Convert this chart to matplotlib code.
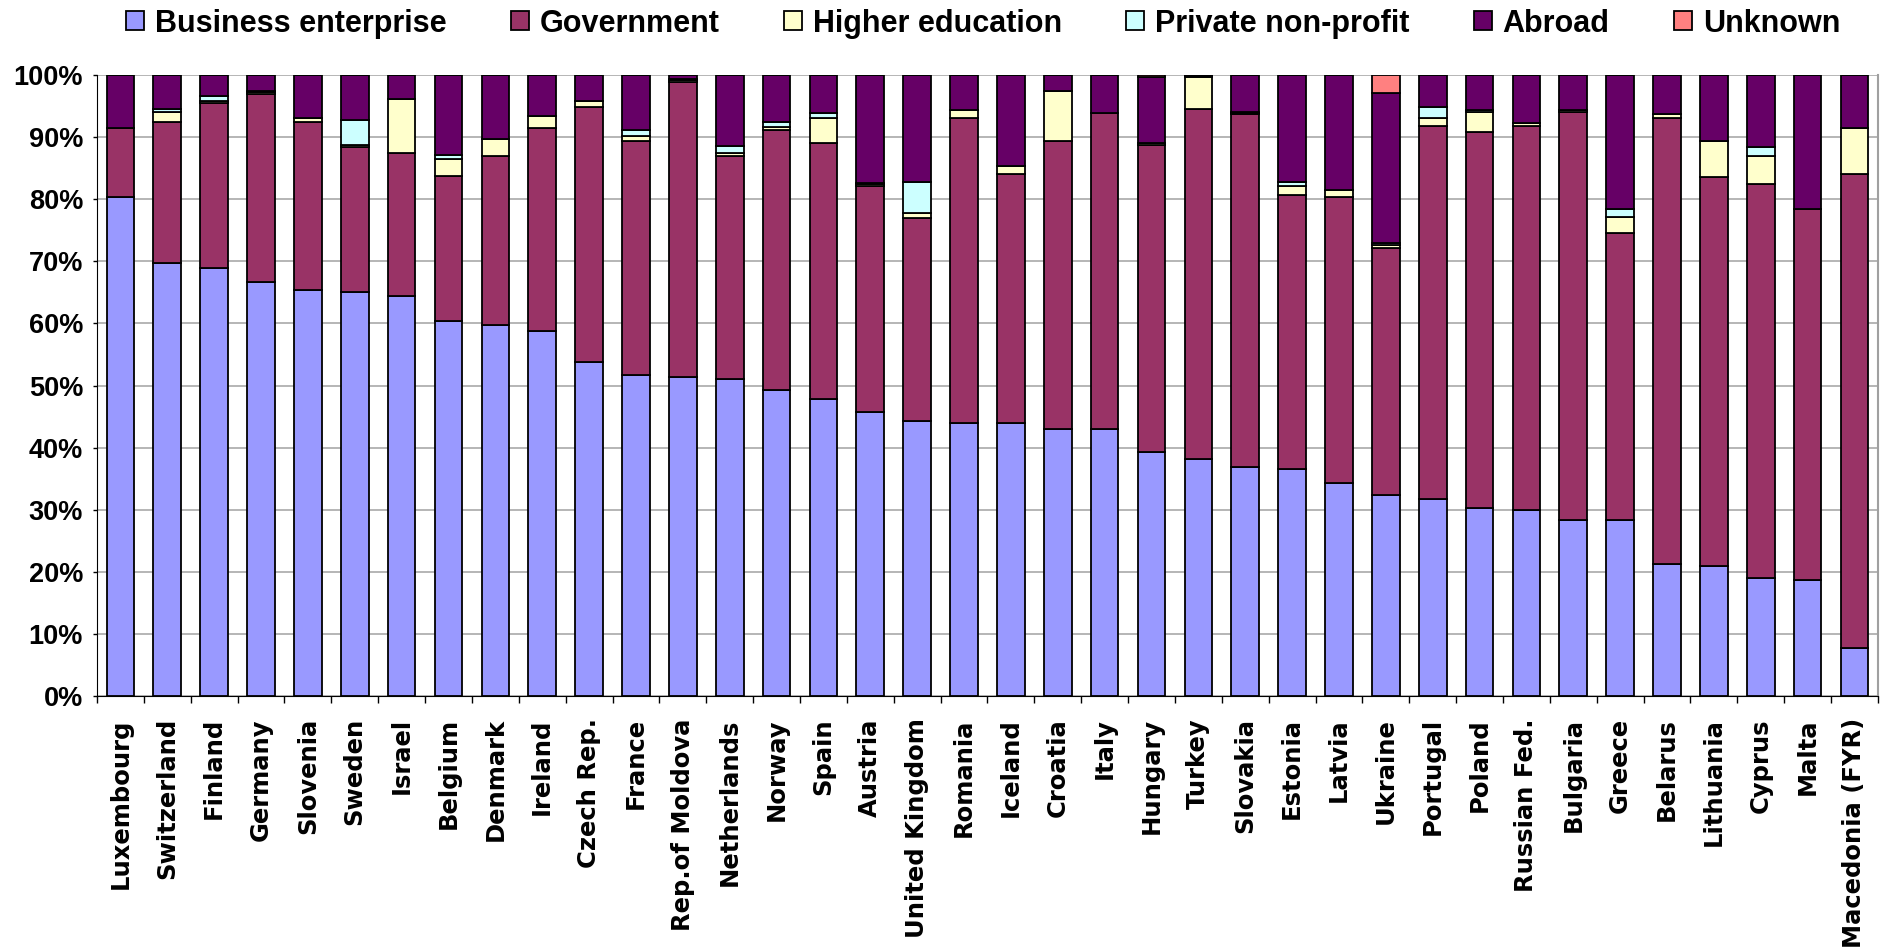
"""
Stacked shares of R&D funding by source, per country.
"""
import numpy as np
import matplotlib
matplotlib.use("Agg")
from matplotlib import pyplot as plt
from matplotlib.ticker import FixedLocator, PercentFormatter

countries = ["Luxembourg", "Switzerland", "Finland", "Germany", "Slovenia", "Sweden",
             "Israel", "Belgium", "Denmark", "Ireland", "Czech Rep.", "France",
             "Rep.of Moldova", "Netherlands", "Norway", "Spain", "Austria",
             "United Kingdom", "Romania", "Iceland", "Croatia", "Italy", "Hungary",
             "Turkey", "Slovakia", "Estonia", "Latvia", "Ukraine", "Portugal",
             "Poland", "Russian Fed.", "Bulgaria", "Greece", "Belarus", "Lithuania",
             "Cyprus", "Malta", "Macedonia (FYR)"]

business = [80.3, 69.7, 69.0, 66.6, 65.4, 65.0, 64.4, 60.4, 59.7, 58.8, 53.8, 51.7,
            51.3, 51.0, 49.2, 47.9, 45.8, 44.3, 44.0, 43.9, 43.0, 43.0, 39.3, 38.1,
            36.8, 36.5, 34.3, 32.4, 31.8, 30.2, 29.9, 28.4, 28.4, 21.2, 20.9, 19.0,
            18.7, 7.8]
government = [11.2, 22.7, 26.5, 30.4, 27.1, 23.4, 23.1, 23.4, 27.2, 32.7, 41.1, 37.7,
              47.6, 36.0, 42.0, 41.2, 36.4, 32.6, 49.1, 40.1, 46.4, 50.8, 49.4, 56.5,
              56.9, 44.1, 46.0, 39.8, 60.0, 60.7, 61.9, 65.7, 46.1, 71.9, 62.6, 63.5,
              59.8, 76.3]
higher_ed = [0.0, 1.6, 0.3, 0.3, 0.5, 0.3, 8.7, 2.7, 2.8, 1.9, 0.9, 0.8, 0.3, 0.4,
             0.5, 4.0, 0.3, 0.9, 1.2, 1.3, 8.0, 0.0, 0.3, 5.0, 0.2, 1.5, 1.2, 0.4,
             1.3, 3.2, 0.5, 0.2, 2.7, 0.6, 5.9, 4.4, 0.0, 7.4]
private = [0.0, 0.6, 0.8, 0.1, 0.1, 4.0, 0.0, 0.6, 0.0, 0.0, 0.0, 1.0, 0.2, 1.2, 0.8,
           0.7, 0.1, 5.0, 0.0, 0.0, 0.0, 0.0, 0.1, 0.2, 0.2, 0.6, 0.0, 0.3, 1.8, 0.2,
           0.0, 0.1, 1.2, 0.0, 0.0, 1.5, 0.0, 0.0]
abroad = [8.5, 5.4, 3.4, 2.6, 6.9, 7.3, 3.8, 12.9, 10.3, 6.6, 4.2, 8.8, 0.6, 11.4,
          7.5, 6.2, 17.4, 17.2, 5.7, 14.7, 2.6, 6.2, 10.5, 0.2, 5.9, 17.3, 18.5, 24.2,
          5.1, 5.7, 7.7, 5.6, 21.6, 6.3, 10.6, 11.6, 21.5, 8.5]
unknown = [0.0] * 22 + [0.4] + [0.0] * 4 + [2.9] + [0.0] * 10

series = [("Business enterprise", business, "#9999FF"),
          ("Government", government, "#993366"),
          ("Higher education", higher_ed, "#FFFFCC"),
          ("Private non-profit", private, "#CCFFFF"),
          ("Abroad", abroad, "#660066"),
          ("Unknown", unknown, "#FF8080")]


def main():
    fig = plt.figure(figsize=(18.83, 9.48), dpi=100)
    ax = fig.add_axes([0.0515, 0.2658, 0.9458, 0.6551])

    x = np.arange(len(countries))
    bottom = np.zeros(len(countries))
    for name, vals, color in series:
        vals = np.array(vals) / 100.0
        ax.bar(x, vals, 0.59, bottom=bottom, color=color, edgecolor="black",
               linewidth=1.3, label=name, zorder=3)
        bottom += vals

    ax.set_xlim(-0.5, len(countries) - 0.5)
    ax.set_ylim(0, 1)

    # y axis: percent ticks with grey gridlines
    ax.set_yticks(np.arange(0, 1.01, 0.1))
    ax.yaxis.set_major_formatter(PercentFormatter(1.0, decimals=0))
    ax.grid(axis="y", color="#b0b0b0", linewidth=1.3, zorder=0)
    ax.tick_params(axis="y", length=3, width=1, pad=7)
    for lab in ax.get_yticklabels():
        lab.set_fontfamily("Liberation Sans")
        lab.set_fontweight("bold")
        lab.set_fontsize(19.5)

    # x axis: tick marks between categories, labels rotated
    ax.set_xticks(x)
    ax.set_xticklabels(countries, rotation=90, fontfamily="DejaVu Sans",
                       fontweight="bold", fontsize=17.5, va="top")
    ax.tick_params(axis="x", which="major", length=0, pad=16)
    ax.xaxis.set_minor_locator(FixedLocator(np.arange(-0.5, len(countries), 1)))
    ax.tick_params(axis="x", which="minor", length=5, width=1, color="black")

    ax.spines["top"].set_visible(False)
    ax.spines["right"].set_color("#a0a0a0")
    ax.spines["right"].set_linewidth(1.5)
    ax.spines["left"].set_color("black")
    ax.spines["bottom"].set_color("black")

    fig.legend(loc="upper center", bbox_to_anchor=(0.522, 1.02), ncol=6,
               frameon=False, prop={"family": "Liberation Sans", "weight": "bold",
                                    "size": 22},
               handlelength=0.6, handleheight=0.6, handletextpad=0.35,
               columnspacing=2.1)

    fig.savefig("out.png", dpi=100)


if __name__ == "__main__":
    main()
